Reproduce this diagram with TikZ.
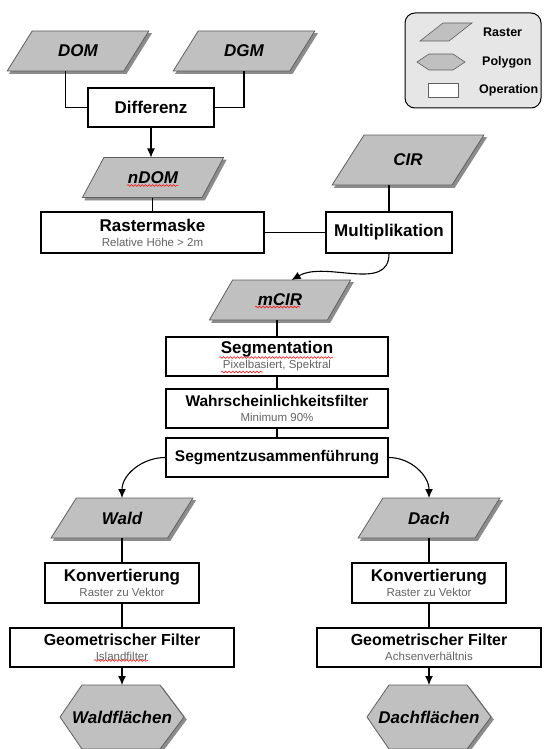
\documentclass[tikz,border=0pt]{standalone}
\usepackage{fontspec}
\setmainfont{Liberation Sans}
\usetikzlibrary{shapes.geometric,arrows.meta}
\usetikzlibrary{decorations.pathmorphing,calc}
\definecolor{rasterFill}{RGB}{192,192,192}
\definecolor{rasterLine}{RGB}{95,95,95}
\definecolor{shadowGray}{RGB}{140,140,140}
\definecolor{legendFill}{RGB}{230,230,230}
\definecolor{subGray}{RGB}{100,100,100}
\newcommand\optitle{\fontsize{17}{15}\selectfont\bfseries}
\newcommand\optsmall{\fontsize{15.5}{15}\selectfont\bfseries}
\newcommand\optgeo{\fontsize{16}{15}\selectfont\bfseries}
\newcommand\opsub{\fontsize{11.5}{13}\selectfont\mdseries\color{subGray}}
\newcommand\datalabel{\fontsize{17}{19}\selectfont\bfseries\itshape}

\begin{document}
\begin{tikzpicture}[x=1pt,y=-1pt,>={Latex[length=9pt,width=8pt]},
    conn/.style={line width=1.1pt},
    shade3/.style={preaction={fill=shadowGray,draw=shadowGray,
      transform canvas={xshift=2.5pt,yshift=-2.5pt}}},
    operation/.style={draw,line width=1.3pt,fill=white,align=center,inner sep=2pt,
      minimum height=39pt,font=\optitle},
    raster/.style={trapezium,trapezium left angle=51,trapezium right angle=129,
      trapezium stretches=true,minimum width=142pt,minimum height=40pt,
      fill=rasterFill,draw=rasterLine,line width=.8pt,inner sep=1pt,outer sep=0pt,
      shade3,font=\datalabel},
    hexpath/.style={fill=rasterFill,draw=rasterLine,line width=.8pt,shade3},
    polygon/.style={minimum width=124pt,minimum height=64pt,inner sep=0pt,outer sep=0pt,
      font=\datalabel},
    legendtext/.style={anchor=west,font=\fontsize{12.5}{14}\selectfont\bfseries,inner sep=0pt},
    spellmark/.style={red,line width=.5pt,decorate,decoration={snake,amplitude=.9pt,segment length=3.5pt}}]

  \useasboundingbox (0,0) rectangle (544,749);

  % legend
  \node[draw,line width=1pt,fill=legendFill,rounded corners=10pt,minimum width=136pt,
    minimum height=95pt] (legend) at (473,60.5) {};
  \node[trapezium,trapezium left angle=61,trapezium right angle=119,trapezium stretches=true,
    minimum width=52pt,minimum height=18pt,inner sep=1pt,fill=rasterFill,draw=rasterLine,
    line width=.6pt] (iconRaster) at (446,32) {\strut};
  \filldraw[fill=rasterFill,draw=rasterLine,line width=.6pt] (441,62) +(-24,0) -- +(-12,-8)
    -- +(12,-8) -- +(24,0) -- +(12,8) -- +(-12,8) -- cycle;
  \node[minimum width=48pt,minimum height=16pt,inner sep=0pt] (iconPolygon) at (441,62) {};
  \node[draw=rasterLine,line width=.6pt,fill=white,minimum width=30pt,minimum height=14pt,
    inner sep=0pt] (iconOperation) at (443,90) {};
  \node[legendtext] (txtRaster) at (483,32) {Raster};
  \node[legendtext] (txtPolygon) at (482,62) {Polygon};
  \node[legendtext] (txtOperation) at (479,90) {Operation};

  % difference of the surface models
  \node[raster] (dom) at (78,51) {DOM};
  \node[raster] (dgm) at (244,51) {DGM};
  \node[operation,minimum width=126pt] (diff) at (151,107.5) {Differenz};
  \node[raster] (ndom) at (153,177.5) {nDOM};
  \draw[conn] (dom.bottom side) |- (diff.west);
  \draw[conn] (dgm.center |- dgm.south) |- (diff.east);
  \draw[conn,->] (diff.south) -- (diff.south |- ndom.north);

  % masking of the CIR image
  \node[raster,minimum width=152pt,minimum height=50pt] (cir) at (408,160) {CIR};
  \node[operation,minimum width=223pt,minimum height=41pt] (mask) at (152.5,232.5)
    {Rastermaske\\{\opsub Relative Höhe > 2m}};
  \node[operation,minimum width=126pt,minimum height=41pt] (mult) at (389,232.5) {Multiplikation};
  \node[raster] (mcir) at (280,300) {mCIR};
  \draw[conn] (mask.north |- ndom.south) -- (mask.north);
  \draw[conn] (mask) -- (mult);
  \draw[conn] (mult.north |- cir.south) -- (mult.north);
  \draw[conn,->] (mult.south) to[out=-90,in=30] (mcir.top side);

  % segmentation chain
  \node[operation,minimum width=222pt] (seg) at (277,356.5)
    {Segmentation\\{\opsub Pixelbasiert, Spektral}};
  \node[operation,minimum width=222pt] (prob) at (277,408.5)
    {{\optsmall Wahrscheinlichkeitsfilter}\\{\opsub Minimum 90\%}};
  \node[operation,minimum width=222pt] (merge) at (277,457.5) {\optsmall Segmentzusammenführung};
  \draw[conn] (seg.north |- mcir.south) -- (seg.north);
  \foreach \a/\b in {seg/prob,prob/merge}
    \draw[conn] (\a) -- (\b);

  % the two classes
  \foreach \side/\x/\cls/\res/\geo in {L/122/Wald/Waldflächen/Islandfilter,
                                       R/429/Dach/Dachflächen/Achsenverhältnis}
  {
    \node[raster] (class\side) at (\x,518) {\cls};
    \node[operation,minimum width=154pt,minimum height=40pt] (conv\side) at (\x,583)
      {Konvertierung\\{\opsub Raster zu Vektor}};
    \node[operation,minimum width=224pt] (geo\side) at (\x,647.5)
      {{\optgeo Geometrischer Filter}\\{\opsub \geo}};
    \filldraw[hexpath] (\x,717) +(-62,0) -- +(-40,-32) -- +(38,-32) -- +(62,0)
      -- +(38,32) -- +(-40,32) -- cycle;
    \node[polygon] (area\side) at (\x,717) {\res};
    \draw[conn] (conv\side.north |- class\side.south) -- (conv\side.north);
    \draw[conn] (conv\side) -- (geo\side);
    \draw[conn,->] (geo\side) -- (area\side);
  }
  \draw[conn,->] (merge.west) to[out=180,in=90] (classL.center |- classL.north);
  \draw[conn,->] (merge.east) to[out=0,in=90] (classR.center |- classR.north);

  % spell check marks
  \draw[spellmark] ($(ndom.center)+(-26,8)$) -- ++(51,0);
  \draw[spellmark] ($(mcir.center)+(-25,7)$) -- ++(45,0);
  \draw[spellmark] ($(seg.center)+(-58,1)$) -- ++(114,0);
  \draw[spellmark] ($(seg.center)+(-56,15.5)$) -- ++(42,0);
  \draw[spellmark] ($(geoL.center)+(-28,13)$) -- ++(54,0);

\end{tikzpicture}
\end{document}
